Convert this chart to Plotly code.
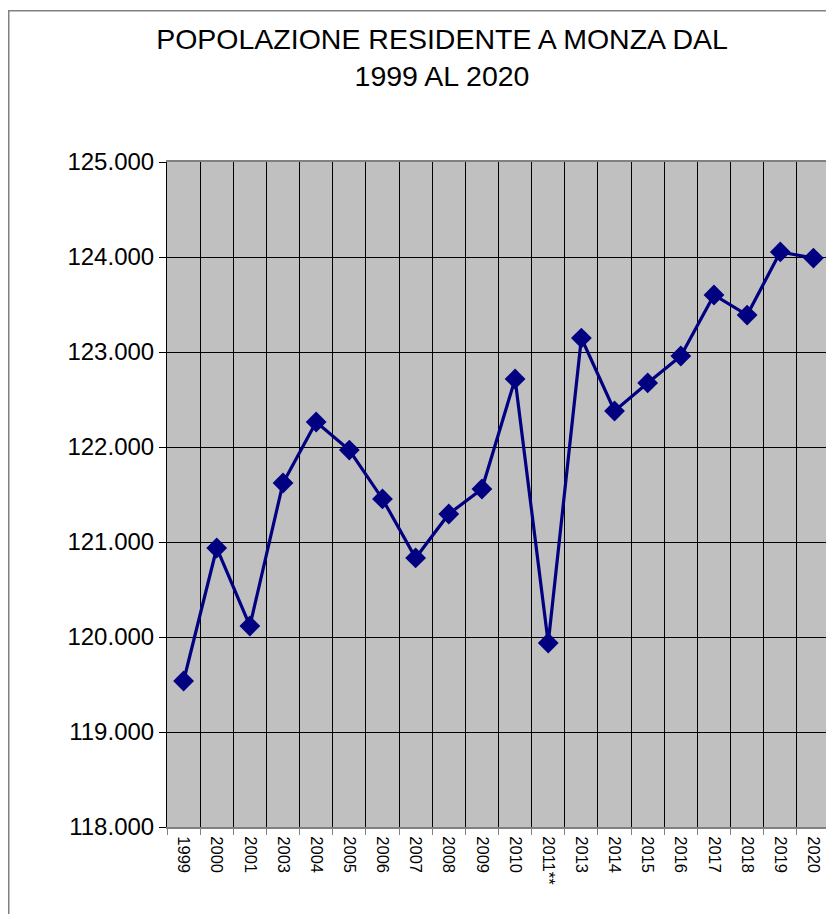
import plotly.graph_objects as go

years = ["1999", "2000", "2001", "2003", "2004", "2005", "2006", "2007", "2008", "2009",
         "2010", "2011**", "2013", "2014", "2015", "2016", "2017", "2018", "2019", "2020"]
population = [119537, 120937, 120116, 121621, 122263, 121968, 121453, 120832, 121295, 121558,
              122716, 119937, 123147, 122379, 122674, 122958, 123600, 123389, 124053, 123989]
y_ticks = [118000, 119000, 120000, 121000, 122000, 123000, 124000, 125000]

FONT = "Liberation Sans, Arial, sans-serif"

# page body has an 8px margin; the figure is sized so that it fills the window
W, H = 826, 906
L, R, T, B = 159, 4, 154, 87
pw, ph = W - L - R, H - T - B

fig = go.Figure()
fig.add_trace(go.Scatter(
    x=years, y=population, mode="lines+markers",
    line=dict(color="#000080", width=3.2),
    marker=dict(symbol="diamond", size=16, color="#000080"),
    cliponaxis=False,
))

fig.update_layout(
    width=W, height=H,
    margin=dict(l=L, r=R, t=T, b=B),
    paper_bgcolor="white", plot_bgcolor="#C0C0C0",
    separators=",.",
    showlegend=False,
    font=dict(family=FONT, color="black"),
    title=dict(text="POPOLAZIONE RESIDENTE A MONZA DAL<br>1999 AL 2020",
               x=434 / W, xanchor="center", xref="container",
               y=1 - 41 / H, yanchor="top", yref="container",
               font=dict(size=28.5, family=FONT, color="black")),
)
fig.update_xaxes(
    type="category", tickson="boundaries", range=[-0.5, len(years) - 0.5],
    showgrid=True, gridcolor="black", gridwidth=1,
    showline=True, linecolor="#808080", linewidth=2, mirror=True,
    ticks="outside", ticklen=6, tickcolor="#808080", tickwidth=1,
    tickangle=90, tickfont=dict(size=16.5, family=FONT), ticklabelstandoff=4,
)
fig.update_yaxes(
    range=[118000, 125000], tickvals=y_ticks, tickformat=",d",
    showgrid=True, gridcolor="black", gridwidth=1,
    showline=True, linecolor="black", linewidth=1,
    ticks="outside", ticklen=7, tickcolor="black",
    tickfont=dict(size=24, family=FONT), zeroline=False,
)
# right edge of plot area
fig.add_shape(type="line", xref="paper", yref="paper", x0=1, x1=1, y0=0, y1=1,
              line=dict(color="#808080", width=2))
# outer chart border
fig.add_shape(type="rect", xref="paper", yref="paper",
              x0=(0.75 - L) / pw, x1=1.2, y0=-0.3, y1=1 + (T - 2.7) / ph,
              line=dict(color="#808080", width=1.5), layer="below")

fig.write_html("out.html")
